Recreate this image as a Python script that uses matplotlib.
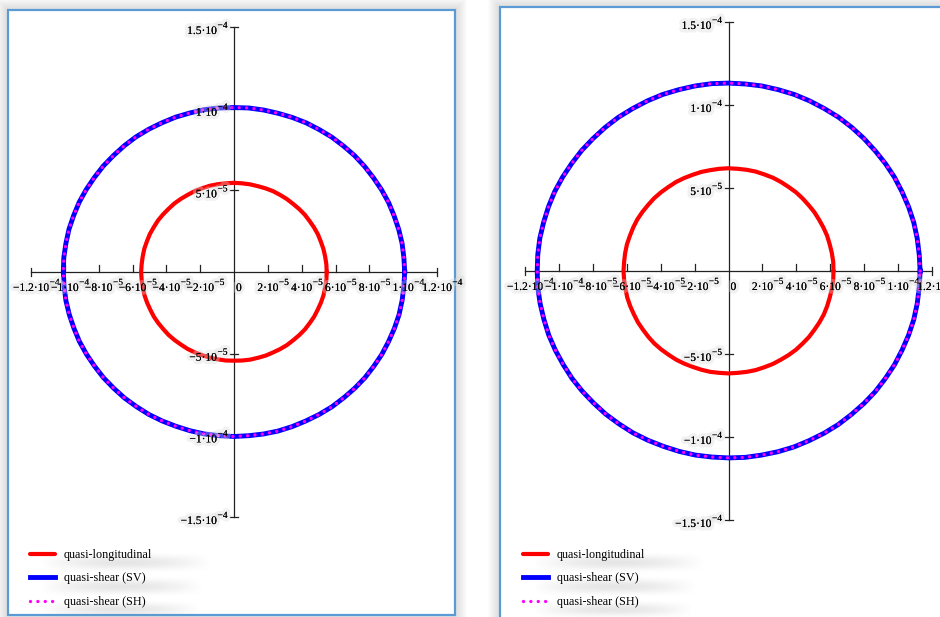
import numpy as np
import matplotlib
matplotlib.use('Agg')
import matplotlib.pyplot as plt
from matplotlib.patches import Rectangle
import matplotlib.patheffects as pe

plt.rcParams['font.family'] = ['Liberation Serif', 'DejaVu Serif']

W, H = 940, 617

# polar angle of each sample, degrees
angles = np.arange(0, 360, 5)

# slowness surfaces, units of 1e-5 s/m, one value per angle
ql_left = [5.48, 5.48, 5.47, 5.47, 5.46, 5.47, 5.46, 5.45, 5.46, 5.45, 5.44, 5.45,
           5.45, 5.46, 5.45, 5.44, 5.45, 5.45, 5.46, 5.45, 5.46, 5.47, 5.46, 5.47,
           5.46, 5.47, 5.48, 5.47, 5.48, 5.49, 5.48, 5.49, 5.48, 5.49, 5.48, 5.48,
           5.49, 5.48, 5.47, 5.48, 5.47, 5.46, 5.47, 5.46, 5.45, 5.46, 5.45, 5.44,
           5.45, 5.44, 5.43, 5.44, 5.43, 5.44, 5.43, 5.44, 5.45, 5.44, 5.45, 5.44,
           5.45, 5.46, 5.45, 5.46, 5.47, 5.46, 5.47, 5.46, 5.47, 5.48, 5.47, 5.48]
sv_left = [10.09, 10.08, 10.09, 10.08, 10.07, 10.08, 10.07, 10.06, 10.07, 10.08, 10.07, 10.08,
           10.07, 10.08, 10.07, 10.06, 10.07, 10.08, 10.07, 10.08, 10.09, 10.08, 10.09, 10.08,
           10.09, 10.10, 10.09, 10.08, 10.09, 10.08, 10.09, 10.10, 10.09, 10.10, 10.09, 10.10,
           10.09, 10.08, 10.09, 10.08, 10.07, 10.08, 10.07, 10.06, 10.07, 10.06, 10.07, 10.06,
           10.07, 10.06, 10.05, 10.06, 10.07, 10.06, 10.07, 10.06, 10.07, 10.08, 10.07, 10.06,
           10.07, 10.08, 10.07, 10.08, 10.09, 10.08, 10.09, 10.08, 10.09, 10.10, 10.09, 10.08]
sh_left = sv_left

ql_right = [6.19, 6.20, 6.19, 6.18, 6.19, 6.18, 6.17, 6.18, 6.17, 6.18, 6.19, 6.18,
            6.19, 6.20, 6.19, 6.20, 6.19, 6.18, 6.19, 6.18, 6.17, 6.18, 6.17, 6.18,
            6.19, 6.18, 6.19, 6.20, 6.19, 6.20, 6.21, 6.20, 6.19, 6.20, 6.19, 6.18,
            6.19, 6.18, 6.17, 6.18, 6.17, 6.16, 6.17, 6.16, 6.17, 6.18, 6.17, 6.16,
            6.17, 6.16, 6.15, 6.16, 6.17, 6.16, 6.17, 6.16, 6.17, 6.18, 6.17, 6.18,
            6.17, 6.18, 6.19, 6.18, 6.19, 6.18, 6.19, 6.20, 6.19, 6.18, 6.19, 6.20]
sv_right = [11.30, 11.29, 11.30, 11.31, 11.30, 11.29, 11.30, 11.29, 11.28, 11.29, 11.30, 11.31,
            11.30, 11.31, 11.32, 11.31, 11.32, 11.31, 11.32, 11.33, 11.32, 11.31, 11.32, 11.31,
            11.30, 11.31, 11.30, 11.29, 11.30, 11.29, 11.30, 11.31, 11.30, 11.29, 11.30, 11.29,
            11.28, 11.29, 11.28, 11.27, 11.28, 11.27, 11.26, 11.27, 11.26, 11.25, 11.26, 11.25,
            11.26, 11.25, 11.24, 11.25, 11.26, 11.25, 11.26, 11.27, 11.26, 11.27, 11.28, 11.27,
            11.28, 11.29, 11.28, 11.29, 11.30, 11.29, 11.30, 11.29, 11.30, 11.31, 11.30, 11.29]
sh_right = sv_right

xticks = [-12, -10, -8, -6, -4, -2, 2, 4, 6, 8, 10, 12]
yticks = [15, 10, 5, -5, -10, -15]
labels = ['quasi-longitudinal', 'quasi-shear (SV)', 'quasi-shear (SH)']

MINUS = '\u2212'


def fmt(v):
    # Mathcad-style number split into mantissa part and exponent: "1.2·10", "−4"
    e = int(np.floor(np.log10(abs(v)) + 1e-9))
    m = v / 10.0 ** e
    ms = ('%.1f' % m).rstrip('0').rstrip('.').replace('-', MINUS)
    return ms + '\u00b710', MINUS + str(-e)


def xy(r):
    r = np.append(np.asarray(r), r[0]) * 1e-5
    t = np.deg2rad(np.append(angles, 360))
    return r * np.cos(t), r * np.sin(t)


fig = plt.figure(figsize=(W / 100, H / 100), dpi=100, facecolor='white')

# background layer in pixel coordinates: frames with soft shadows
bg = fig.add_axes([0, 0, 1, 1], zorder=0)
bg.set_xlim(0, W)
bg.set_ylim(H, 0)
bg.axis('off')
for (x0, y0, x1, y1) in [(8, 10, 455, 615), (500, 7, 960, 640)]:
    for k in range(12, 0, -1):
        bg.add_patch(Rectangle((x0 - k, y0 - k), x1 - x0 + 2 * k, y1 - y0 + 2 * k,
                               facecolor='#808080', edgecolor='none', alpha=0.018))
    bg.add_patch(Rectangle((x0, y0), x1 - x0, y1 - y0, facecolor='white',
                           edgecolor='#5b9bd5', linewidth=1.6))


def smudge(x0, x1, y0, y1, strength=0.22):
    # soft grey haze behind the legend rows
    nx, ny = max(int(x1 - x0), 4), max(int(y1 - y0), 4)
    a = np.outer(np.hanning(ny), np.hanning(nx) ** 0.5) * strength
    img = np.zeros((ny, nx, 4))
    img[..., :3] = 0.55
    img[..., 3] = a
    bg.imshow(img, extent=(x0, x1, y1, y0), interpolation='bilinear', zorder=3, aspect='auto')


for lx in (0, 493):
    smudge(lx + 40, lx + 212, 551, 574)
    smudge(lx + 40, lx + 204, 575, 598)
    smudge(lx + 40, lx + 200, 599, 620)
bg.set_xlim(0, W)
bg.set_ylim(H, 0)

glow = [pe.withStroke(linewidth=5, foreground='#d8d8d8', alpha=0.35), pe.Normal()]


def tick_label(ax, v, xy0, off, ha, va):
    base, exp = fmt(v)
    t = ax.annotate(base, xy0, xytext=off, textcoords='offset pixels',
                    ha=ha, va=va, fontsize=8.3, path_effects=glow)
    ax.annotate(exp, xy=(1, 1), xycoords=t, xytext=(0.5, -1), textcoords='offset pixels',
                ha='left', va='center', fontsize=6.8, path_effects=glow)


def panel(box, ql, sv, sh, leg_x):
    left, top, right, bottom = box
    ax = fig.add_axes([left / W, 1 - bottom / H, (right - left) / W, (bottom - top) / H], zorder=2)
    ax.set_xlim(-1.2e-4, 1.2e-4)
    ax.set_ylim(-1.5e-4, 1.5e-4)
    ax.axis('off')
    ax.patch.set_visible(False)
    px_y = 3e-4 / (bottom - top)
    px_x = 2.4e-4 / (right - left)

    ax.plot([-1.2e-4, 1.2e-4], [0, 0], color='#222222', lw=0.9, clip_on=False)
    ax.plot([0, 0], [-1.5e-4, 1.5e-4], color='#222222', lw=0.9, clip_on=False)
    for v in xticks:
        x = v * 1e-5
        if abs(v) == 12:
            ax.plot([x, x], [-4 * px_y, 4 * px_y], color='#222222', lw=0.9, clip_on=False)
        else:
            ax.plot([x, x], [0, 7 * px_y], color='#222222', lw=0.9, clip_on=False)
        tick_label(ax, x, (x, 0), (0, -10), 'center', 'top')
    ax.annotate('0', (0, 0), xytext=(2, -10), textcoords='offset pixels',
                ha='left', va='top', fontsize=8.3, path_effects=glow)
    for v in yticks:
        y = v * 1e-5
        ax.plot([-4 * px_x, 4 * px_x], [y, y], color='#222222', lw=0.9, clip_on=False)
        tick_label(ax, y, (0, y), (-17, -4), 'right', 'center')

    h1, = ax.plot(*xy(ql), color='red', lw=3, solid_capstyle='round', clip_on=False)
    h2, = ax.plot(*xy(sv), color='blue', lw=3.5, clip_on=False)
    h3, = ax.plot(*xy(sh), color='magenta', lw=2.4, linestyle=(0, (0.01, 2.2)),
                  dash_capstyle='round', clip_on=False)

    ax.legend([h1, h2, h3], labels, loc='upper left',
              bbox_to_anchor=(leg_x / W, 1 - 549 / H), bbox_transform=fig.transFigure,
              frameon=False, fontsize=8.7, handlelength=2.1, handletextpad=0.7,
              labelspacing=0.95, borderpad=0, borderaxespad=0)
    return ax


panel((31, 27, 437, 517), ql_left, sv_left, sh_left, 30)
panel((525, 22, 932, 520), ql_right, sv_right, sh_right, 523)

fig.savefig('out.png', dpi=100, facecolor='white')
